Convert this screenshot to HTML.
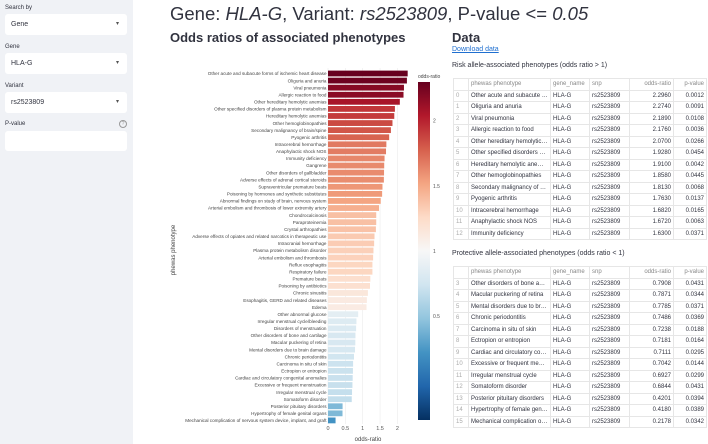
<!DOCTYPE html>
<html><head><meta charset="utf-8"><style>
body{margin:0;width:708px;height:444px;overflow:hidden;font-family:"Liberation Sans",sans-serif;background:#fff;position:relative;color:#31333f}
.sb{position:absolute;left:0;top:0;width:133px;height:444px;background:#f0f2f6}
.lbl{position:absolute;left:5px;font-size:6px;color:#31333f}
.sel{position:absolute;left:5px;width:122px;height:21px;background:#fff;border-radius:3px;font-size:7px;line-height:21px;box-sizing:border-box;padding-left:6px}
.sel:after{content:"▾";position:absolute;right:8px;top:0;font-size:6px;color:#555}
h1{position:absolute;left:170px;top:3px;margin:0;font-size:18.5px;font-weight:normal;color:#31333f;white-space:nowrap}
h2{position:absolute;margin:0;font-size:13px;font-weight:bold;white-space:nowrap}
table{position:absolute;border-collapse:collapse;font-size:6px;table-layout:fixed;width:253px}
td,th{border:1px solid #e6e6e6;height:10.5px;padding:0 2px;white-space:nowrap;overflow:hidden;text-overflow:ellipsis;font-weight:normal}
th{color:#888}
td.i{color:#aaa}
td.n{text-align:right}
.cap{position:absolute;font-size:7px;left:452px}
</style></head><body>
<div class="sb">
<div class="lbl" style="top:5px">Search by</div>
<div class="sel" style="top:14px">Gene</div>
<div class="lbl" style="top:44px">Gene</div>
<div class="sel" style="top:53px">HLA-G</div>
<div class="lbl" style="top:83px">Variant</div>
<div class="sel" style="top:92px">rs2523809</div>
<div class="lbl" style="top:121px">P-value</div>
<div style="position:absolute;left:119px;top:120px;width:6px;height:6px;border:1px solid #999;border-radius:50%;font-size:5px;text-align:center;line-height:6px;color:#999">?</div>
<div style="position:absolute;left:5px;top:131px;width:122px;height:20px;background:#fff;border-radius:3px"></div>
</div>
<h1>Gene: <i>HLA-G</i>, Variant: <i>rs2523809</i>, P-value &lt;= <i>0.05</i></h1>
<h2 style="left:170px;top:30px">Odds ratios of associated phenotypes</h2>
<h2 style="left:452px;top:30px">Data</h2>
<div style="position:absolute;left:452px;top:46px;font-size:7px;color:#1f6fd0;text-decoration:underline">Download data</div>
<div class="cap" style="top:62px">Risk allele-associated phenotypes (odds ratio &gt; 1)</div>
<div class="cap" style="top:250px">Protective allele-associated phenotypes (odds ratio &lt; 1)</div>
<svg id="chart" width="708" height="444" style="position:absolute;left:0;top:0"></svg>
<script>
const phenos=["Other acute and subacute forms of ischemic heart disease","Oliguria and anuria","Viral pneumonia","Allergic reaction to food","Other hereditary hemolytic anemias","Other specified disorders of plasma protein metabolism","Hereditary hemolytic anemias","Other hemoglobinopathies","Secondary malignancy of brain/spine","Pyogenic arthritis","Intracerebral hemorrhage","Anaphylactic shock NOS","Immunity deficiency","Gangrene","Other disorders of gallbladder","Adverse effects of adrenal cortical steroids","Supraventricular premature beats","Poisoning by hormones and synthetic substitutes","Abnormal findings on study of brain, nervous system","Arterial embolism and thrombosis of lower extremity artery","Chondrocalcinosis","Paraproteinemia","Crystal arthropathies","Adverse effects of opiates and related narcotics in therapeutic use","Intracranial hemorrhage","Plasma protein metabolism disorder","Arterial embolism and thrombosis","Reflux esophagitis","Respiratory failure","Premature beats","Poisoning by antibiotics","Chronic sinusitis","Esophagitis, GERD and related diseases","Edema","Other abnormal glucose","Irregular menstrual cycle/bleeding","Disorders of menstruation","Other disorders of bone and cartilage","Macular puckering of retina","Mental disorders due to brain damage","Chronic periodontitis","Carcinoma in situ of skin","Ectropion or entropion","Cardiac and circulatory congenital anomalies","Excessive or frequent menstruation","Irregular menstrual cycle","Somatoform disorder","Posterior pituitary disorders","Hypertrophy of female genital organs","Mechanical complication of nervous system device, implant, and graft"];
const oddsRatios=[2.296,2.274,2.189,2.176,2.07,1.928,1.91,1.858,1.813,1.763,1.682,1.672,1.63,1.62,1.615,1.61,1.57,1.56,1.52,1.47,1.39,1.39,1.38,1.34,1.33,1.31,1.30,1.28,1.28,1.22,1.21,1.15,1.12,1.11,0.87,0.82,0.81,0.7908,0.7871,0.7785,0.7486,0.7238,0.7181,0.7111,0.7042,0.6927,0.6844,0.4201,0.418,0.2178];
const pValues=[0.0012,0.0091,0.0108,0.0036,0.0266,0.0454,0.0042,0.0445,0.0068,0.0137,0.0165,0.0063,0.0371];
const pValuesProt=[0.0431,0.0344,0.0371,0.0369,0.0188,0.0164,0.0295,0.0144,0.0299,0.0431,0.0394,0.0389,0.0342];
const xTicks=[0,0.5,1,1.5,2];
const cbTicks=[0.5,1,1.5,2];
const NS="http://www.w3.org/2000/svg";
const svg=document.getElementById('chart');
const x0=328,xs=34.7,yTop=73.5,pitch=7.08;
const X=v=>x0+v*xs, Y=i=>yTop+i*pitch;
const cmin=-0.296,cmax=2.296;
const stops=["#053061","#2166ac","#4393c3","#92c5de","#d1e5f0","#f7f7f7","#fddbc7","#f4a582","#d6604d","#b2182b","#67001f"];
function hex(h){return [1,3,5].map(i=>parseInt(h.substr(i,2),16));}
function col(v){let t=(v-cmin)/(cmax-cmin);t=Math.max(0,Math.min(1,t))*(stops.length-1);const i=Math.min(Math.floor(t),stops.length-2),f=t-i;const a=hex(stops[i]),b=hex(stops[i+1]);return "rgb("+a.map((c,k)=>Math.round(c+(b[k]-c)*f)).join(",")+")";}
function mk(t,attrs,txt){const e=document.createElementNS(NS,t);for(const k in attrs)e.setAttribute(k,attrs[k]);if(txt!=null)e.textContent=txt;svg.appendChild(e);return e;}
xTicks.forEach(v=>{const g=mk('line',{x1:X(v),x2:X(v),y1:68,y2:424,stroke:'#ebebeb','stroke-width':0.6});


const t=mk('text',{x:X(v),y:430,'font-size':5.5,'text-anchor':'middle',fill:'#555'},String(v));

});
phenos.forEach((p,i)=>{const v=oddsRatios[i];
const r=mk('rect',{x:X(0),y:Y(i)-2.9,width:X(v)-X(0),height:5.8,fill:col(v)});


const t=mk('text',{x:X(0)-1.5,y:Y(i)+1.7,'font-size':4.6,'text-anchor':'end',fill:'#444'},p);

});
const yt=mk('text',{x:175,y:250,'font-size':6,'text-anchor':'middle',fill:'#444',transform:'rotate(-90 175 250)'},'phewas phenotype');


const xt=mk('text',{x:368,y:441,'font-size':6,'text-anchor':'middle',fill:'#444'},'odds-ratio');


const cbTop=82,cbBot=420,CY=v=>cbTop+(cmax-v)/(cmax-cmin)*(cbBot-cbTop);
const defs=mk('defs',{});const lg=document.createElementNS(NS,'linearGradient');lg.setAttribute('id','cg');lg.setAttribute('x1',0);lg.setAttribute('y1',1);lg.setAttribute('x2',0);lg.setAttribute('y2',0);
stops.forEach((s,i)=>{const st=document.createElementNS(NS,'stop');st.setAttribute('offset',i/(stops.length-1));st.setAttribute('stop-color',s);lg.appendChild(st);});defs.appendChild(lg);
const cb=mk('rect',{x:418,y:cbTop,width:12,height:cbBot-cbTop,fill:'url(#cg)'});


const ct=mk('text',{x:418,y:78,'font-size':5,fill:'#444'},'odds-ratio');


cbTicks.forEach(v=>{const t=mk('text',{x:433,y:CY(v)+2,'font-size':5,fill:'#555'},String(v));

});
function table(top,startIdx,idxLabels,pv,name){
 const tb=document.createElement('table');tb.style.left='453px';tb.style.top=top+'px';
 
 
 const widths=[15,82,39,40,44,33];
 let h='<colgroup>'+widths.map(w=>'<col style="width:'+w+'px">').join('')+'</colgroup><tr><th></th><th style="text-align:left">phewas phenotype</th><th style="text-align:left">gene_name</th><th style="text-align:left">snp</th><th style="text-align:right">odds-ratio</th><th style="text-align:right">p-value</th></tr>';
 idxLabels.forEach((lab,k)=>{const i=startIdx+k;h+='<tr><td class="i">'+lab+'</td><td>'+phenos[i]+'</td><td>HLA-G</td><td>rs2523809</td><td class="n">'+oddsRatios[i].toFixed(4)+'</td><td class="n">'+pv[k].toFixed(4)+'</td></tr>';});
 tb.innerHTML=h;document.body.appendChild(tb);}
table(78,0,[0,1,2,3,4,5,6,7,8,9,10,11,12],pValues,'risk-table');
table(266,37,[3,4,5,6,7,8,9,10,11,12,13,14,15],pValuesProt,'protective-table');
</script>
</body></html>
